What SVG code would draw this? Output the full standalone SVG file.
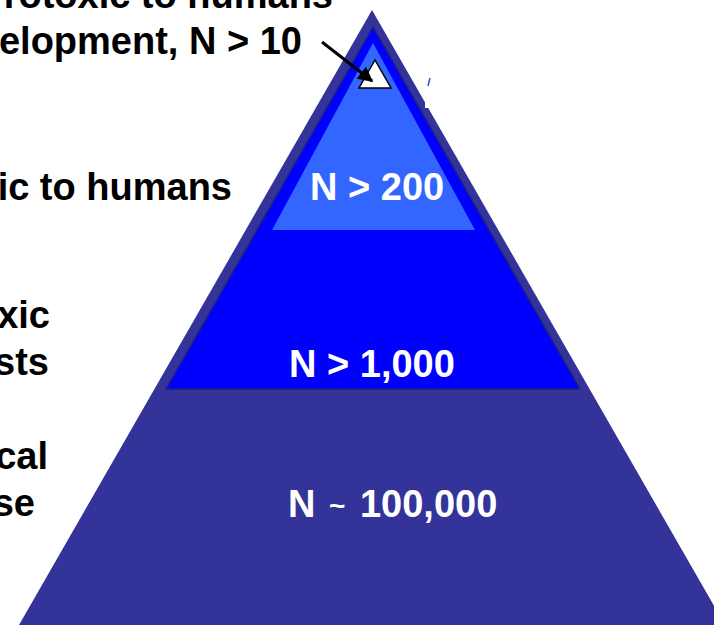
<svg xmlns="http://www.w3.org/2000/svg" width="714" height="625" viewBox="0 0 714 625">
  <style>
    .lbl { font-family: "Liberation Sans", Arial, sans-serif; font-weight: bold; font-size: 38px; }
    .side { fill: #000000; text-anchor: end; }
    .tier { fill: #ffffff; }
  </style>
  <defs>
    <marker id="ah" viewBox="0 0 10 10" refX="9" refY="5" markerWidth="5.5" markerHeight="5" orient="auto" markerUnits="strokeWidth">
      <path d="M0,0 L10,5 L0,10 Z" fill="#000000"/>
    </marker>
  </defs>
  <rect width="714" height="625" fill="#ffffff"/>

  <g id="tier-base">
    <polygon points="372,10 19,625 725,625" fill="#333399"/>
    <text class="lbl tier" x="288" y="517">N <tspan font-size="28" dx="3" dy="-2">~</tspan><tspan dx="4" dy="2"> 100,000</tspan></text>
  </g>

  <g id="tier-1000">
    <polygon points="373,27 166,389 580,389" fill="#0000ff" stroke="#22227a" stroke-width="1.5"/>
    <text class="lbl tier" x="289" y="377">N &gt; 1,000</text>
  </g>

  <g id="tier-200">
    <polygon points="373,43 272,230 475,230" fill="#3366ff"/>
    <text class="lbl tier" x="310" y="200">N &gt; 200</text>
  </g>

  <g id="tier-10">
    <polygon points="375,60 359,88 391,88" fill="#ffffff" stroke="#000000" stroke-width="1.5"/>
  </g>

  <g id="notch">
    <rect x="425" y="60" width="40" height="48" fill="#ffffff"/>
    <line x1="430" y1="78" x2="428" y2="86" stroke="#3355cc" stroke-width="1.5"/>
  </g>

  <g id="side-labels">
    <text class="lbl side" x="333" y="8">rotoxic to humans</text>
    <text class="lbl side" x="302" y="54">elopment, N &gt; 10</text>
    <text class="lbl side" x="232" y="200">ic to humans</text>
    <text class="lbl side" x="50" y="328">xic</text>
    <text class="lbl side" x="49" y="375">sts</text>
    <text class="lbl side" x="48" y="469">cal</text>
    <text class="lbl side" x="35" y="516">se</text>
  </g>

  <g id="connectors">
    <line x1="322" y1="42" x2="372" y2="81" stroke="#000000" stroke-width="3" marker-end="url(#ah)"/>
  </g>
</svg>
